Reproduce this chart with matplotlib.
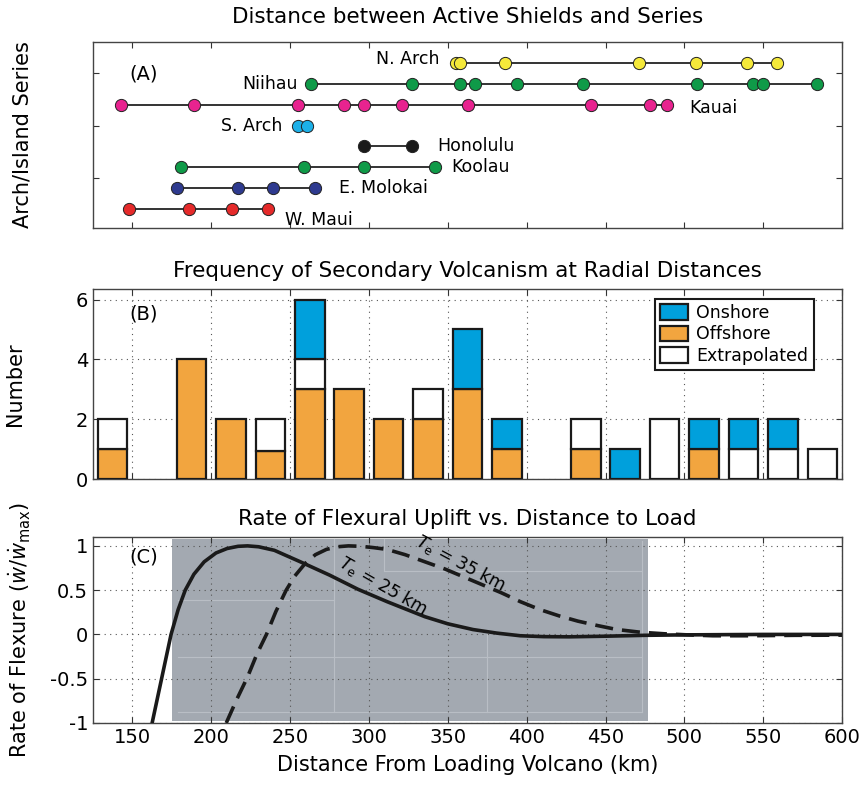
import numpy as np
import matplotlib
matplotlib.use('Agg')
import matplotlib.pyplot as plt
from matplotlib.patches import Patch

plt.rcParams['font.family'] = ['DejaVu Sans']
plt.rcParams['mathtext.fontset'] = 'dejavusans'

# --- panel A: distances (km) of secondary volcanism along each series
w_maui = [148, 186, 213, 236]
e_molokai = [178.5, 217, 239, 265.5]
koolau = [180.5, 259, 297, 342]
honolulu = [297, 327]
s_arch = [255, 261]
kauai = [143, 189, 255, 284, 297, 321, 363, 441, 478, 489]
niihau = [263.5, 327.5, 358, 367, 394, 435.5, 508, 543.5, 550, 584]
n_arch = [355.5, 358, 386, 471, 507.5, 539.5, 558.5]

series_names = ['W. Maui', 'E. Molokai', 'Koolau', 'Honolulu', 'S. Arch',
                'Kauai', 'Niihau', 'N. Arch']
series_data = [w_maui, e_molokai, koolau, honolulu, s_arch, kauai, niihau, n_arch]
series_colors = ['#E52A2A', '#2E3A8F', '#0F9A48', '#1A1A1A', '#1CB0E8',
                 '#E8238F', '#0F9A48', '#F5E93A']

# --- panel B: counts per 25 km radial bin
bin_centers = np.arange(137.5, 600, 25)
offshore = [1, 0, 4, 2, 0.95, 3, 3, 2, 2, 3, 1, 0, 1, 0, 0, 1, 0, 0, 0]
extrapolated = [1, 0, 0, 0, 1.05, 1, 0, 0, 1, 0, 0, 0, 1, 0, 2, 0, 1, 1, 1]
onshore = [0, 0, 0, 0, 0, 2, 0, 0, 0, 2, 1, 0, 0, 1, 0, 1, 1, 1, 0]

# --- panel C: normalised rate of flexure
te25_x = [162.5, 168.5, 174.5, 179, 183.5, 189, 195.5, 203, 210, 217, 223,
          230, 240, 256.5, 275, 293, 311.5, 335.5, 350, 366, 381, 396,
          411, 427, 450, 475, 500, 550, 600]
te25_y = [-1.0, -0.5, 0.0, 0.28, 0.5, 0.68, 0.82, 0.92, 0.97, 0.995, 1.0,
          0.99, 0.95, 0.82, 0.67, 0.51, 0.37, 0.2, 0.12, 0.055, 0.015, -0.015,
          -0.025, -0.027, -0.02, -0.01, -0.005, 0.0, 0.0]
te35_x = [209.5, 216, 223, 229, 235, 241, 247.5, 253, 259.5, 266, 273,
          280, 287, 295, 303, 311.5, 323, 335.5, 348, 360, 372, 384, 396,
          408.5, 420.5, 432.5, 445, 457, 472, 487.5, 502, 518, 540, 570, 600]
te35_y = [-1.0, -0.74, -0.48, -0.22, 0.0, 0.26, 0.5, 0.66, 0.8, 0.9, 0.96,
          0.99, 1.0, 0.995, 0.98, 0.96, 0.9, 0.82, 0.74, 0.65, 0.56, 0.47,
          0.37, 0.28, 0.21, 0.15, 0.1, 0.056, 0.025, 0.007, -0.005, -0.015,
          -0.015, -0.01, -0.008]

shade_range = (175, 477)
# faint lines of the pasted grey panel: (x0, x1, y0, y1)
shade_lines = [(309.5, 473, 0.72, 0.72), (309.5, 309.5, 0.72, 1.08),
               (179, 277.6, 0.39, 0.39), (277.6, 277.6, -0.88, 1.08),
               (179, 473, -0.26, -0.26), (179, 473, -0.88, -0.88),
               (375, 375, -0.88, 0.0), (473, 473, -0.88, 1.06)]

fig = plt.figure(figsize=(8.61, 7.85), dpi=100)
L, W = 0.108, 0.870
axA = fig.add_axes([L, 0.7096, W, 0.2369])
axB = fig.add_axes([L, 0.3898, W, 0.2420])
axC = fig.add_axes([L, 0.0790, W, 0.2369])

for ax in (axA, axB, axC):
    ax.set_xlim(125, 600)
    ax.set_xticks(np.arange(150, 601, 50))
    ax.tick_params(direction='in', top=True, right=True, length=4,
                   labelsize=14, color='#333333')
    for s in ax.spines.values():
        s.set_color('#444444')
        s.set_linewidth(1.0)

# panel A
for i, (name, xs, c) in enumerate(zip(series_names, series_data, series_colors)):
    y = i + 1
    axA.plot(xs, [y] * len(xs), '-', color='#333333', lw=1.4, zorder=1)
    axA.plot(xs, [y] * len(xs), 'o', ms=8.8, mfc=c, mec='#222222', mew=0.7, zorder=2)
fs_lab = 12.5
axA.text(247, 0.5, 'W. Maui', fontsize=fs_lab, va='center', ha='left')
axA.text(281, 2.0, 'E. Molokai', fontsize=fs_lab, va='center', ha='left')
axA.text(352, 3.0, 'Koolau', fontsize=fs_lab, va='center', ha='left')
axA.text(343, 4.0, 'Honolulu', fontsize=fs_lab, va='center', ha='left')
axA.text(245, 5.0, 'S. Arch', fontsize=fs_lab, va='center', ha='right')
axA.text(503, 5.85, 'Kauai', fontsize=fs_lab, va='center', ha='left')
axA.text(255, 7.0, 'Niihau', fontsize=fs_lab, va='center', ha='right')
axA.text(345, 8.2, 'N. Arch', fontsize=fs_lab, va='center', ha='right')
axA.set_ylim(0.1, 9.0)
axA.set_yticks([2.5, 5, 7.5])
axA.set_yticklabels([])
axA.set_xticklabels([])
axA.text(0.048, 0.83, '(A)', transform=axA.transAxes, fontsize=14, va='center')
axA.set_title('Distance between Active Shields and Series', fontsize=15.5, pad=14)
axA.set_ylabel('Arch/Island Series', fontsize=15)
axA.yaxis.set_label_coords(-0.081, 0.5)

# panel B
bw = 18.75
off = np.array(offshore)
ext = np.array(extrapolated)
ons = np.array(onshore)
kw = dict(width=bw, edgecolor='#1A1A1A', linewidth=1.6, zorder=3)
for vals, base, col in [(off, np.zeros_like(off), '#F2A53F'),
                        (ext, off, 'white'),
                        (ons, off + ext, '#00A0DC')]:
    m = vals > 0
    axB.bar(bin_centers[m], vals[m], bottom=base[m], color=col, **kw)
axB.set_ylim(0, 6.35)
axB.set_yticks([0, 2, 4, 6])
axB.set_xticklabels([])
axB.grid(True, ls=(0, (1, 4)), color='#555555', lw=0.8)
axB.set_axisbelow(True)
axB.text(0.048, 0.87, '(B)', transform=axB.transAxes, fontsize=14, va='center')
axB.set_title('Frequency of Secondary Volcanism at Radial Distances', fontsize=15.5, pad=9)
axB.set_ylabel('Number', fontsize=15)
axB.yaxis.set_label_coords(-0.091, 0.5)
handles = [Patch(facecolor='#00A0DC', edgecolor='#1A1A1A', lw=1.6, label='Onshore'),
           Patch(facecolor='#F2A53F', edgecolor='#1A1A1A', lw=1.6, label='Offshore'),
           Patch(facecolor='white', edgecolor='#1A1A1A', lw=1.6, label='Extrapolated')]
leg = axB.legend(handles=handles, loc='upper right', bbox_to_anchor=(0.962, 0.95),
                 borderaxespad=0, fontsize=12.5, fancybox=False, framealpha=1,
                 handlelength=1.6, handleheight=1.0, labelspacing=0.2,
                 borderpad=0.3, handletextpad=0.5)
leg.get_frame().set_edgecolor('#1A1A1A')
leg.get_frame().set_linewidth(1.5)

# panel C
axC.axvspan(shade_range[0], shade_range[1], ymin=0.008, ymax=0.99,
            color='#A3A9B1', zorder=0, lw=0)
for x0, x1, y0, y1 in shade_lines:
    axC.plot([x0, x1], [y0, y1], color='#B9BEC5', lw=0.8, zorder=0.5)
axC.plot(te25_x, te25_y, '-', color='#1A1A1A', lw=2.6, zorder=3)
axC.plot(te35_x, te35_y, '--', color='#1A1A1A', lw=2.6, dashes=(5, 2.5), zorder=3)
axC.set_ylim(-1, 1.1)
axC.set_yticks([-1, -0.5, 0, 0.5, 1])
axC.set_yticklabels(['-1', '-0.5', '0', '0.5', '1'])
axC.grid(True, ls=(0, (1, 4)), color='#555555', lw=0.8)
axC.text(309, 0.55, r'$T_{\mathrm{e}}$ = 25 km', fontsize=12.5, rotation=-30,
         ha='center', va='center')
axC.text(358, 0.81, r'$T_{\mathrm{e}}$ = 35 km', fontsize=12.5, rotation=-28,
         ha='center', va='center')
axC.text(0.048, 0.89, '(C)', transform=axC.transAxes, fontsize=14, va='center')
axC.set_title('Rate of Flexural Uplift vs. Distance to Load', fontsize=15.5, pad=9)
axC.set_ylabel(r'Rate of Flexure ($\dot{w}/\dot{w}_{\mathrm{max}}$)', fontsize=15)
axC.yaxis.set_label_coords(-0.08, 0.5)
axC.set_xlabel('Distance From Loading Volcano (km)', fontsize=15, labelpad=6)

fig.savefig('out.png', dpi=100)
